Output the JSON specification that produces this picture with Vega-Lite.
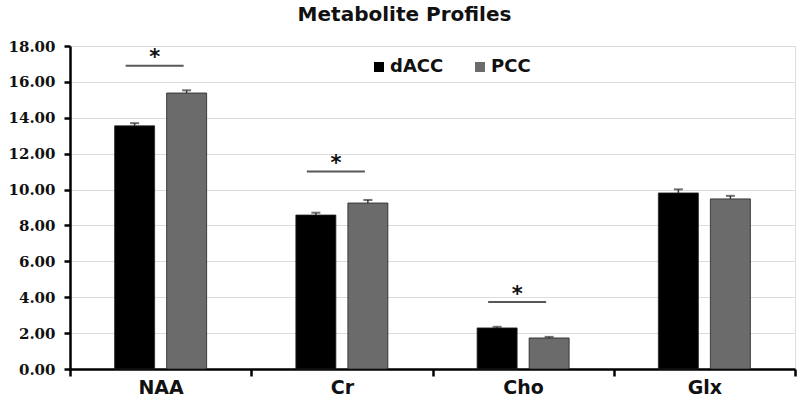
{
  "$schema": "https://vega.github.io/schema/vega-lite/v6.json",
  "autosize": "none",
  "width": 725,
  "height": 323,
  "padding": {"left": 70, "top": 46, "right": 5, "bottom": 31},
  "background": "white",
  "config": {
    "axisY": {
      "title": null,
      "labelOverlap": false,
      "format": ".2f",
      "labelFont": "DejaVu Serif",
      "labelFontSize": 15,
      "labelFontWeight": "bold",
      "labelColor": "#111",
      "labelPadding": 9,
      "domainColor": "#000",
      "domainWidth": 2.5,
      "tickColor": "#000",
      "tickWidth": 2.5,
      "tickSize": 6,
      "gridColor": "#dcdcdc",
      "gridWidth": 1.2
    }
  },
  "title": {
    "text": "Metabolite Profiles",
    "font": "DejaVu Sans",
    "fontSize": 20,
    "fontWeight": "bold",
    "color": "#111",
    "anchor": "middle",
    "dx": -28,
    "offset": 14
  },
  "datasets": {
    "bars": [
      {"metabolite": "NAA", "region": "dACC", "value": 13.55, "err": 0.15},
      {"metabolite": "NAA", "region": "PCC", "value": 15.38, "err": 0.15},
      {"metabolite": "Cr", "region": "dACC", "value": 8.58, "err": 0.13},
      {"metabolite": "Cr", "region": "PCC", "value": 9.25, "err": 0.17},
      {"metabolite": "Cho", "region": "dACC", "value": 2.29, "err": 0.06},
      {"metabolite": "Cho", "region": "PCC", "value": 1.73, "err": 0.06},
      {"metabolite": "Glx", "region": "dACC", "value": 9.81, "err": 0.2},
      {"metabolite": "Glx", "region": "PCC", "value": 9.48, "err": 0.17}
    ],
    "sig": [
      {"metabolite": "NAA", "line": 16.9, "star": 17.2},
      {"metabolite": "Cr", "line": 11.0, "star": 11.3},
      {"metabolite": "Cho", "line": 3.73, "star": 4.03}
    ]
  },
  "encoding": {
    "x": {
      "field": "metabolite",
      "type": "nominal",
      "sort": ["NAA", "Cr", "Cho", "Glx"],
      "scale": {"domain": ["NAA", "Cr", "Cho", "Glx"], "paddingInner": 0, "paddingOuter": 0},
      "axis": {
        "title": null,
        "labelAngle": 0,
        "labelFont": "DejaVu Sans",
        "labelFontSize": 19,
        "labelFontWeight": "bold",
        "labelColor": "#111",
        "labelPadding": 2,
        "domainColor": "#000",
        "domainWidth": 2.5,
        "tickBand": "extent",
        "tickColor": "#000",
        "tickWidth": 2.5,
        "tickSize": 7,
        "grid": false
      }
    }
  },
  "layer": [
    {
      "data": {"name": "bars"},
      "mark": {"type": "bar", "stroke": "#222", "strokeWidth": 0.8},
      "encoding": {
        "xOffset": {
          "field": "region",
          "type": "nominal",
          "scale": {"domain": ["dACC", "PCC"], "paddingInner": 0.2308, "paddingOuter": 0.858}
        },
        "y": {
          "field": "value",
          "type": "quantitative",
          "scale": {"domain": [0, 18], "nice": false},
          "axis": {"values": [0, 2, 4, 6, 8, 10, 12, 14, 16, 18], "title": null}
        },
        "color": {
          "field": "region",
          "type": "nominal",
          "scale": {"domain": ["dACC", "PCC"], "range": ["#000000", "#6b6b6b"]},
          "legend": {
            "title": null,
            "orient": "none",
            "legendX": 300,
            "legendY": 12,
            "direction": "horizontal",
            "symbolType": "square",
            "symbolSize": 100,
            "symbolStrokeWidth": 0,
            "labelFont": "DejaVu Sans",
            "labelFontSize": 18,
            "labelFontWeight": "bold",
            "labelColor": "#111",
            "columnPadding": 27,
            "labelOffset": 2
          }
        }
      }
    },
    {
      "data": {"name": "bars"},
      "transform": [{"calculate": "datum.value + datum.err", "as": "hi"}],
      "mark": {"type": "rule", "color": "#333", "strokeWidth": 1.5},
      "encoding": {
        "xOffset": {"field": "region", "type": "nominal", "scale": {"domain": ["dACC", "PCC"], "paddingInner": 0.2308, "paddingOuter": 0.858}},
        "y": {"field": "value", "type": "quantitative", "axis": {"values": [0, 2, 4, 6, 8, 10, 12, 14, 16, 18], "title": null}},
        "y2": {"field": "hi"}
      }
    },
    {
      "data": {"name": "bars"},
      "transform": [{"calculate": "datum.value + datum.err", "as": "hi"}],
      "mark": {"type": "tick", "color": "#333", "thickness": 2, "size": 9, "orient": "horizontal"},
      "encoding": {
        "xOffset": {"field": "region", "type": "nominal", "scale": {"domain": ["dACC", "PCC"], "paddingInner": 0.2308, "paddingOuter": 0.858}},
        "y": {"field": "hi", "type": "quantitative", "axis": {"values": [0, 2, 4, 6, 8, 10, 12, 14, 16, 18], "title": null}}
      }
    },
    {
      "data": {"name": "sig"},
      "mark": {"type": "tick", "color": "#111", "thickness": 2, "size": 58, "orient": "horizontal", "xOffset": -6},
      "encoding": {
        "y": {"field": "line", "type": "quantitative", "axis": {"values": [0, 2, 4, 6, 8, 10, 12, 14, 16, 18], "title": null}}
      }
    },
    {
      "data": {"name": "sig"},
      "mark": {"type": "text", "text": "*", "font": "DejaVu Sans", "fontSize": 21, "fontWeight": "bold", "color": "#111", "baseline": "middle", "dx": -6, "dy": -2},
      "encoding": {
        "y": {"field": "star", "type": "quantitative", "axis": {"values": [0, 2, 4, 6, 8, 10, 12, 14, 16, 18], "title": null}}
      }
    }
  ]
}
